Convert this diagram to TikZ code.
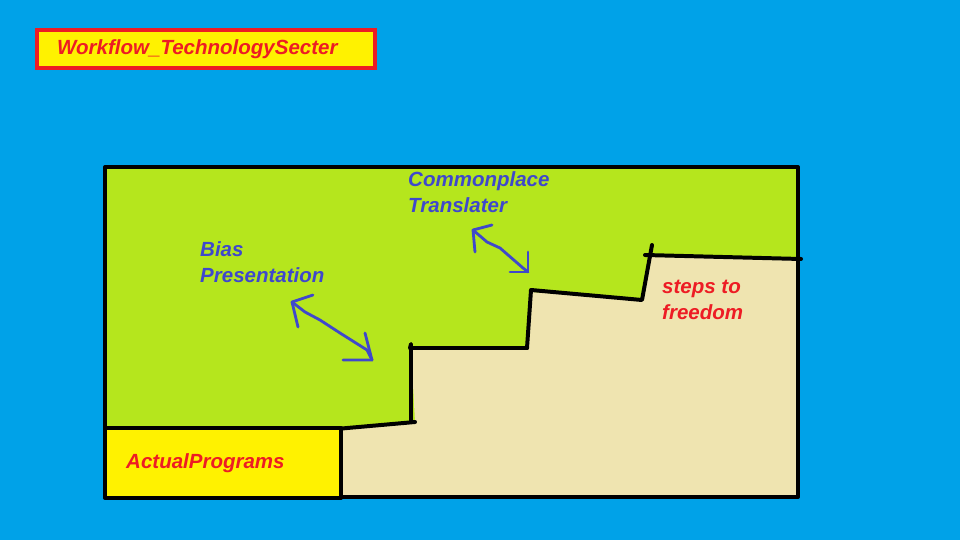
\documentclass[tikz,border=0pt]{standalone}
\usepackage{fontspec}
\setmainfont{Liberation Sans}
\usetikzlibrary{arrows.meta, positioning, calc}
\definecolor{skyblue}{RGB}{0,162,232}
\definecolor{limegreen}{RGB}{181,230,29}
\definecolor{lemon}{RGB}{255,242,0}
\definecolor{sand}{RGB}{239,228,176}
\definecolor{brickred}{RGB}{237,28,36}
\definecolor{inkblue}{RGB}{63,72,204}

\tikzset{
  label/.style={font=\fontsize{17.5}{22}\selectfont\bfseries\itshape, align=left, inner sep=0pt, anchor=west},
  edge/.style={line width=3.4pt, line cap=round, line join=round},
  scribble/.style={inkblue, line width=2.4pt, line cap=round, line join=round}
}

\begin{document}
\begin{tikzpicture}[x=0.03cm, y=-0.03cm]
            \fill[skyblue] (0,0) rectangle (960,540);
            \useasboundingbox (0,0) rectangle (960,540);
            % title
            \draw[brickred, fill=lemon, line width=3.4pt] (37,30) rectangle (375,68);
            \node[label, brickred] (title) at (57,49) {Workflow\_TechnologySecter};
            % main frame
            \fill[limegreen] (105,167) rectangle (798,497);
            \fill[sand] (335,429) -- (415,422) -- (411,347) -- (527,348) -- (531,292) -- (642,300)
                -- (649,256) -- (798,258) -- (798,497) -- (335,497) -- cycle;
            \draw[edge] (105,167) rectangle (798,497);
            % staircase
            \draw[edge] (336,429) -- (415,422);
            \draw[edge] (411,422) -- (411,344) -- (410,348) -- (527,348);
            \draw[edge] (527,348) -- (531,290) -- (642,300) -- (652,245);
            \draw[edge] (645,255) -- (801,259);
            % actual programs box
            \draw[edge, fill=lemon] (105,428) rectangle (341,498);
            \node[label, brickred] (programs) at (126,463) {ActualPrograms};
            \node[label, brickred] (steps) at (662,300) {steps to\\freedom};
            \node[label, inkblue] (bias) at (200,262) {Bias\\Presentation};
            \node[label, inkblue] (translater) at (408,192) {Commonplace\\Translater};
            % hand drawn arrows
            \draw[scribble] (313,295) -- (292,302) -- (298,327);
            \draw[scribble] (292,302) -- (305,312) -- (320,320) -- (340,333) -- (367,350) -- (372,360);
            \draw[scribble] (343,360) -- (372,360) -- (365,333);
            \draw[scribble] (492,225) -- (473,230) -- (475,252);
            \draw[scribble] (473,230) -- (487,242) -- (500,248) -- (523,268) -- (528,272);
            \draw[scribble] (510,272) -- (528,272) -- (528,252);
        \end{tikzpicture}
\end{document}
